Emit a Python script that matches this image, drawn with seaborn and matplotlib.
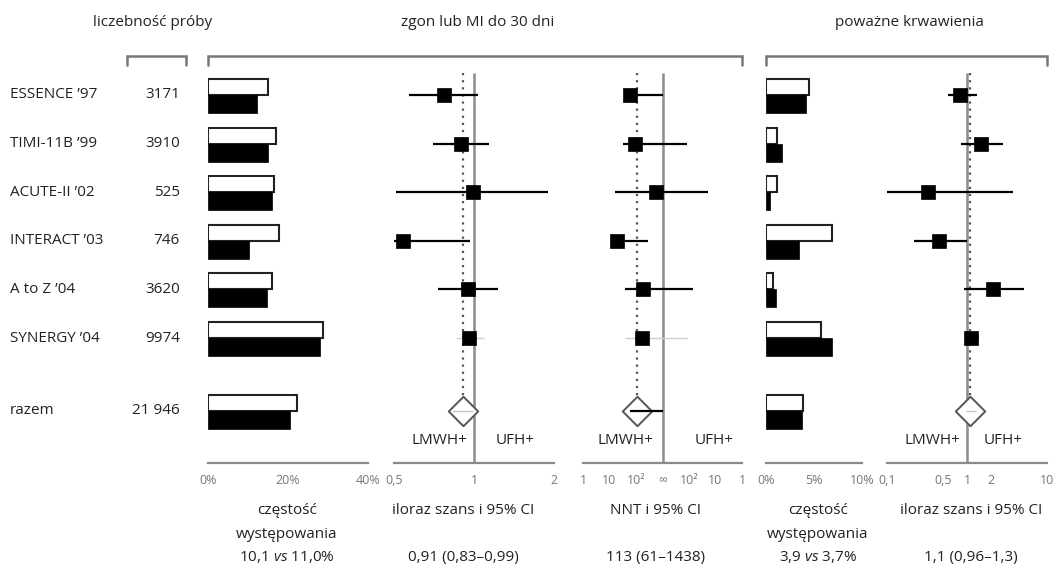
import numpy as np
import pandas as pd
import matplotlib
matplotlib.use("Agg")
import matplotlib.pyplot as plt
import matplotlib.transforms as mtrans
from matplotlib.lines import Line2D
import seaborn as sns

# ---------------- data ----------------
studies = ["ESSENCE \u201997", "TIMI-11B \u201999", "ACUTE-II \u201902", "INTERACT \u201903",
           "A to Z \u201904", "SYNERGY \u201904", "razem"]
sample_sizes = ["3171", "3910", "525", "746", "3620", "9974", "21 946"]
row_pos = [0, 1, 2, 3, 4, 5, 6.5]

# death / MI at 30 days: event rate (%) - open and filled bars
death_rate_open = [15.0, 17.0, 16.5, 17.8, 16.0, 28.8, 22.2]
death_rate_filled = [12.2, 15.0, 16.0, 10.3, 14.8, 28.0, 20.5]

# death / MI: odds ratio and 95% CI (trials), pooled
death_or = [0.77, 0.89, 0.99, 0.54, 0.95, 0.96]
death_or_lo = [0.57, 0.70, 0.51, 0.50, 0.73, 0.855]
death_or_hi = [1.035, 1.14, 1.90, 0.97, 1.23, 1.09]
death_or_pooled = [0.91, 0.83, 0.99]

# NNT (positive = LMWH better, negative = UFH better / NNH)
nnt = [57, 95, 589, 20, 191, 162]
nnt_lo = [38, 31, 15.5, 11, 37, 40]
nnt_hi = [1000, -115, -20, 295, -68, -123]
nnt_pooled = [113, 61, 1438]

# major bleeding: event rate (%)
bleed_rate_open = [4.5, 1.1, 1.1, 6.9, 0.7, 5.7, 3.9]
bleed_rate_filled = [4.2, 1.7, 0.4, 3.4, 1.0, 6.9, 3.8]

# major bleeding: odds ratio and 95% CI
bleed_or = [0.82, 1.50, 0.326, 0.45, 2.11, 1.12]
bleed_or_lo = [0.58, 0.84, 0.10, 0.22, 0.92, 0.98]
bleed_or_hi = [1.33, 2.82, 3.76, 1.00, 5.16, 1.42]
bleed_or_pooled = [1.1, 0.96, 1.3]

pct_ticks_death = [0, 10, 20, 30, 40]
pct_labels_death = ["0%", "", "20%", "", "40%"]
or_ticks_death = [0.5, 1, 2]
or_labels_death = ["0,5", "1", "2"]
nnt_ticks = [-3, -2, -1, 0, 1, 2, 3]
nnt_labels = ["1", "10", "10\u00b2", "\u221e", "10\u00b2", "10", "1"]
pct_ticks_bleed = [0, 5, 10]
pct_labels_bleed = ["0%", "5%", "10%"]
or_ticks_bleed = [0.1, 0.5, 1, 2, 10]
or_labels_bleed = ["0,1", "0,5", "1", "2", "10"]

bottom_texts = [
    (287, ["cz\u0119sto\u015b\u0107", "wyst\u0119powania", "10,1 $\\mathit{vs}$ 11,0%"]),
    (463, ["iloraz szans i 95% CI", "", "0,91 (0,83\u20130,99)"]),
    (656, ["NNT i 95% CI", "", "113 (61\u20131438)"]),
    (818, ["cz\u0119sto\u015b\u0107", "wyst\u0119powania", "3,9 $\\mathit{vs}$ 3,7%"]),
    (971, ["iloraz szans i 95% CI", "", "1,1 (0,96\u20131,3)"]),
]


def nnt_to_u(n):
    n = np.asarray(n, dtype=float)
    return -np.sign(n) * (3 - np.log10(np.abs(n)))


# ---------------- style ----------------
sns.set_theme(style="white")
plt.rcParams["font.family"] = ["Open Sans", "DejaVu Sans"]
plt.rcParams["mathtext.fontset"] = "custom"
plt.rcParams["mathtext.rm"] = "Open Sans"
plt.rcParams["mathtext.it"] = "Open Sans:italic"
TXT = "#222222"
AX_GREY = "#8a8a8a"
FS = 11

W, H = 1055, 566
fig = plt.figure(figsize=(W / 100, H / 100), dpi=100)
fig.patch.set_facecolor("white")

TOP_PX, BOT_PX = 70, 463
ROW0_PX, ROW_STEP = 95, 48.6
Y_TOP = (TOP_PX - ROW0_PX) / ROW_STEP
Y_BOT = (BOT_PX - ROW0_PX) / ROW_STEP


def px_axes(x0, x1):
    return fig.add_axes([x0 / W, 1 - BOT_PX / H, (x1 - x0) / W, (BOT_PX - TOP_PX) / H])


def style(ax, ticks, labels):
    for s in ["top", "right", "left"]:
        ax.spines[s].set_visible(False)
    ax.spines["bottom"].set_color(AX_GREY)
    ax.spines["bottom"].set_linewidth(1.6)
    ax.set_xticks(ticks, labels=labels)
    ax.minorticks_off()
    ax.tick_params(axis="x", direction="out", length=5, width=1.6, color=AX_GREY,
                   labelsize=9, labelcolor="#777777", pad=3)
    ax.tick_params(axis="y", left=False, labelleft=False)
    ax.set_ylim(Y_BOT, Y_TOP)
    ax.set_xlabel("")
    ax.set_ylabel("")
    ax.patch.set_alpha(0)


def bars(ax, open_vals, filled_vals):
    rows = np.array(row_pos)
    ax.barh(rows - 0.165, open_vals, height=0.33, color="white", edgecolor=TXT,
            linewidth=1.5, zorder=2)
    ax.barh(rows + 0.185, filled_vals, height=0.37, color="black", edgecolor="black",
            linewidth=0.5, zorder=2)


def forest(ax, est, lo, hi, pooled, ref, syn_grey=True, pooled_ci_color="#c4c4c4",
           pooled_ci_lw=1.0):
    rows = row_pos[:6]
    diamond_half = 15 / ROW_STEP
    ax.vlines(ref, Y_TOP + 0.06, Y_BOT, color="#8c8c8c", lw=1.8, zorder=1)
    ax.vlines(pooled[0], Y_TOP + 0.06, row_pos[6] - diamond_half, color="#555555",
              lw=1.6, linestyles=(0, (1, 2.2)), zorder=1)
    ci_colors = ["black"] * 5 + (["#cfcfcf"] if syn_grey else ["black"])
    ci_lw = [1.6] * 5 + ([1.0] if syn_grey else [1.6])
    ax.hlines(rows, lo, hi, colors=ci_colors, linewidths=ci_lw, zorder=3, clip_on=False)
    df = pd.DataFrame({"est": est, "row": rows})
    sns.scatterplot(data=df, x="est", y="row", marker="s", s=100, color="black",
                    edgecolor="black", linewidth=0.5, ax=ax, zorder=4, clip_on=False,
                    legend=False)
    dfp = pd.DataFrame({"est": [pooled[0]], "row": [row_pos[6]]})
    sns.scatterplot(data=dfp, x="est", y="row", marker="D", s=225, color="white",
                    edgecolor="#555555", linewidth=1.4, ax=ax, zorder=5, legend=False)
    ax.hlines([row_pos[6]], [pooled[1]], [pooled[2]], colors=pooled_ci_color,
              linewidths=pooled_ci_lw, zorder=6)


def side_labels(ax, ref, dx_left, dx_right):
    y = (440 - ROW0_PX) / ROW_STEP
    tl = mtrans.offset_copy(ax.transData, fig=fig, x=dx_left, y=0, units="dots")
    tr = mtrans.offset_copy(ax.transData, fig=fig, x=dx_right, y=0, units="dots")
    ax.text(ref, y, "LMWH+", transform=tl, ha="right", va="center", fontsize=FS, color=TXT)
    ax.text(ref, y, "UFH+", transform=tr, ha="left", va="center", fontsize=FS, color=TXT)


# panel 1: death/MI rate bars
ax1 = px_axes(208, 368)
bars(ax1, death_rate_open, death_rate_filled)
ax1.set_xlim(0, 40)
style(ax1, pct_ticks_death, pct_labels_death)

# panel 2: death/MI odds ratio
ax2 = px_axes(394, 554)
ax2.set_xscale("log", base=2)
forest(ax2, death_or, death_or_lo, death_or_hi, death_or_pooled, 1)
ax2.set_xlim(0.5, 2)
style(ax2, or_ticks_death, or_labels_death)
side_labels(ax2, 1, -7, 22)

# panel 3: NNT
ax3 = px_axes(583, 742)
u_p = nnt_to_u(nnt_pooled)
forest(ax3, nnt_to_u(nnt), nnt_to_u(nnt_lo), nnt_to_u(nnt_hi),
       [u_p[0], u_p[1], min(u_p[2], 0)], 0, pooled_ci_color="black", pooled_ci_lw=1.6)
ax3.set_xlim(-3, 3)
style(ax3, nnt_ticks, nnt_labels)
side_labels(ax3, 0, -9, 32)

# panel 4: bleeding rate bars
ax4 = px_axes(766, 862)
bars(ax4, bleed_rate_open, bleed_rate_filled)
ax4.set_xlim(0, 10)
style(ax4, pct_ticks_bleed, pct_labels_bleed)

# panel 5: bleeding odds ratio
ax5 = px_axes(887, 1047)
ax5.set_xscale("log")
forest(ax5, bleed_or, bleed_or_lo, bleed_or_hi, bleed_or_pooled, 1, syn_grey=False)
ax5.set_xlim(0.1, 10)
style(ax5, or_ticks_bleed, or_labels_bleed)
side_labels(ax5, 1, -7, 17)

# row labels and sample sizes
trans = mtrans.blended_transform_factory(fig.transFigure, ax1.transData)
for name, n, r in zip(studies, sample_sizes, row_pos):
    ax1.text(10 / W, r, name, transform=trans, ha="left", va="center", fontsize=FS,
             color=TXT, clip_on=False)
    ax1.text(180 / W, r, n, transform=trans, ha="right", va="center", fontsize=FS,
             color=TXT, clip_on=False)

# headers
for x, t in [(153, "liczebno\u015b\u0107 pr\u00f3by"), (478, "zgon lub MI do 30 dni"),
             (909, "powa\u017cne krwawienia")]:
    fig.text(x / W, 1 - 22 / H, t, ha="center", va="center", fontsize=FS, color=TXT)

# header brackets
for x0, x1 in [(127, 186), (208, 742), (766, 1047)]:
    fig.add_artist(Line2D([x0 / W, x0 / W, x1 / W, x1 / W],
                          [1 - 65 / H, 1 - 56 / H, 1 - 56 / H, 1 - 65 / H],
                          color="#777777", lw=1.8, solid_joinstyle="miter"))

# bottom descriptions
for x, lines in bottom_texts:
    for y, t in zip([511, 534, 557], lines):
        if t:
            fig.text(x / W, 1 - y / H, t, ha="center", va="center", fontsize=FS, color=TXT)

fig.savefig("out.png", dpi=100, facecolor="white")
